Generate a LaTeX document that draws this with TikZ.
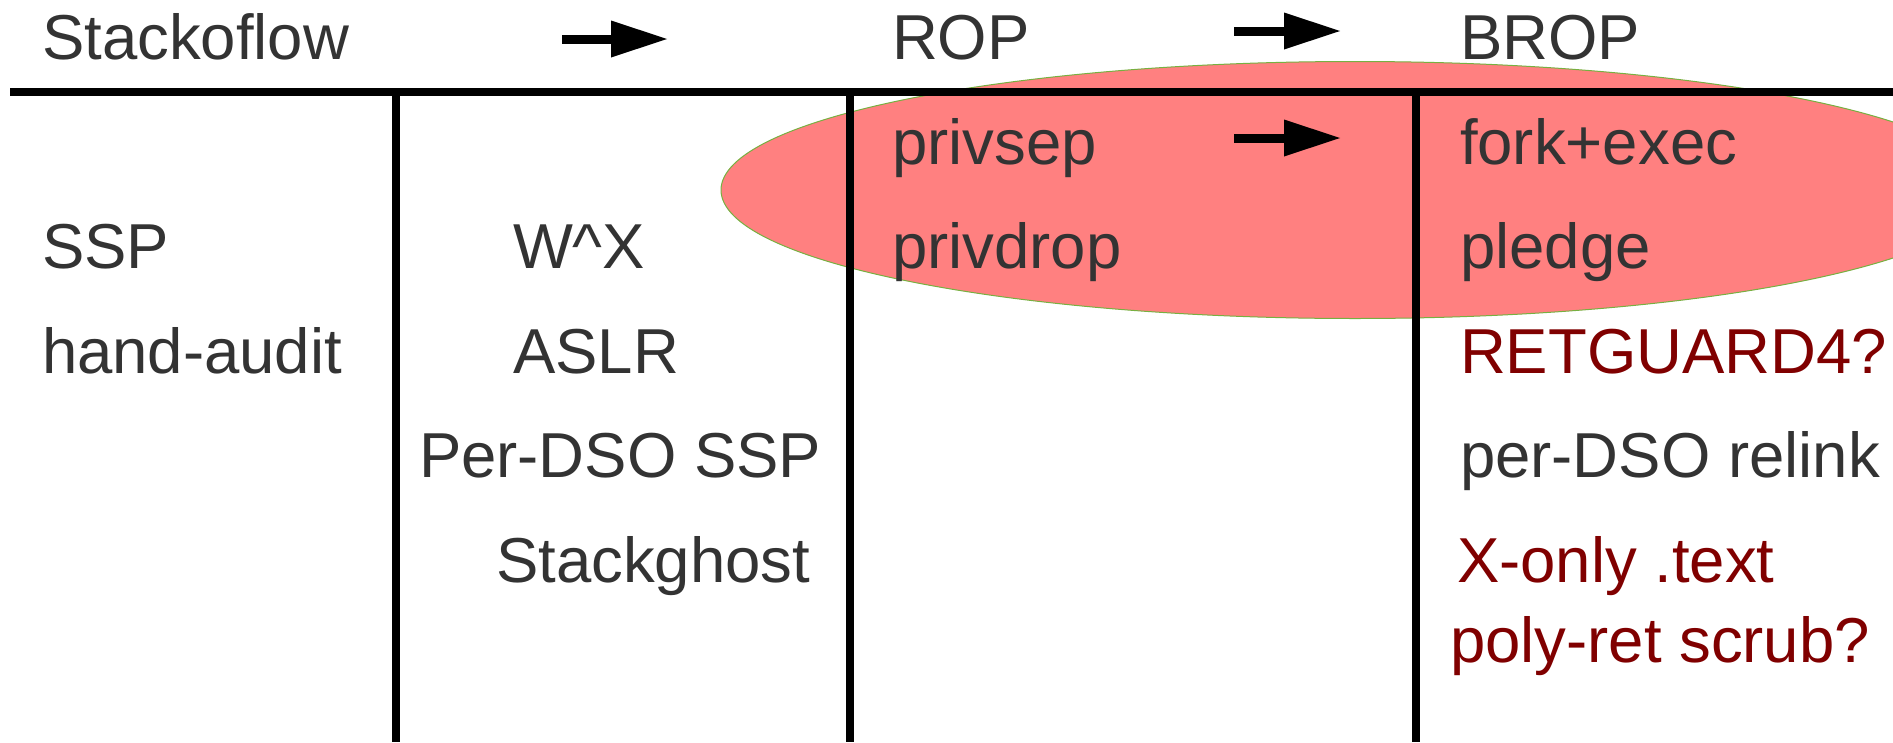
\documentclass[tikz,border=0pt]{standalone}
\usepackage{fontspec}
\setmainfont{Liberation Sans}
\usetikzlibrary{arrows.meta}
\definecolor{txt}{HTML}{333333}
\definecolor{dred}{HTML}{800000}
\definecolor{pinkfill}{HTML}{FF8080}
\definecolor{edgegreen}{HTML}{77B041}
\begin{document}
\begin{tikzpicture}[x=1pt,y=-1pt,
  lbl/.style={anchor=base west,inner sep=0pt,outer sep=0pt,text=txt,font=\fontsize{63.5}{76}\selectfont},
  redlbl/.style={lbl,text=dred},
  rule/.style={line width=7.5pt,black},
  flow/.style={line width=9pt,black,-{Triangle[length=56pt,width=37pt,line width=0pt]}},
  blob/.style={fill=pinkfill,draw=edgegreen,line width=1pt}]
\useasboundingbox (0,0) rectangle (1893,742);
% highlight
\path[blob] (1355,190) ellipse [x radius=634pt, y radius=128.5pt];
% table rules
\coordinate (hl) at (10,92);
\coordinate (hr) at (1893,92);
\draw[rule] (hl) -- (hr);
\coordinate (v1t) at (396,92);  \coordinate (v1b) at (396,742);
\coordinate (v2t) at (850,92);  \coordinate (v2b) at (850,742);
\coordinate (v3t) at (1416,92); \coordinate (v3b) at (1416,742);
\draw[rule] (v1t) -- (v1b);
\draw[rule] (v2t) -- (v2b);
\draw[rule] (v3t) -- (v3b);
% arrows
\coordinate (a1s) at (562,39);  \coordinate (a1e) at (667,39);
\coordinate (a2s) at (1234,31); \coordinate (a2e) at (1340,31);
\coordinate (a3s) at (1234,138); \coordinate (a3e) at (1340,138);
\draw[flow] (a1s) -- (a1e);
\draw[flow] (a2s) -- (a2e);
\draw[flow] (a3s) -- (a3e);
% header
\node[lbl] (stackoflow) at (42,59) {Stackoflow};
\node[lbl] (rop) at (892,59) {ROP};
\node[lbl] (brop) at (1460,59) {BROP};
% column 1
\node[lbl] (ssp) at (42,268) {SSP};
\node[lbl] (handaudit) at (42,373) {hand-audit};
% column 2
\node[lbl] (wx) at (513,268) {W\^{}X};
\node[lbl] (aslr) at (513,373) {ASLR};
\node[lbl] (perdsossp) at (419,477) {Per-DSO SSP};
\node[lbl] (stackghost) at (496,582) {Stackghost};
% column 3
\node[lbl] (privsep) at (892,164) {privsep};
\node[lbl] (privdrop) at (892,268) {privdrop};
% column 4
\node[lbl] (forkexec) at (1460,164) {fork+exec};
\node[lbl] (pledge) at (1460,268) {pledge};
\node[redlbl] (retguard) at (1460,373) {RETGUARD4?};
\node[lbl] (relink) at (1460,477) {per-DSO relink};
\node[redlbl] (xonly) at (1457,582) {X-only .text};
\node[redlbl] (polyret) at (1450,662) {poly-ret scrub?};
\end{tikzpicture}
\end{document}
